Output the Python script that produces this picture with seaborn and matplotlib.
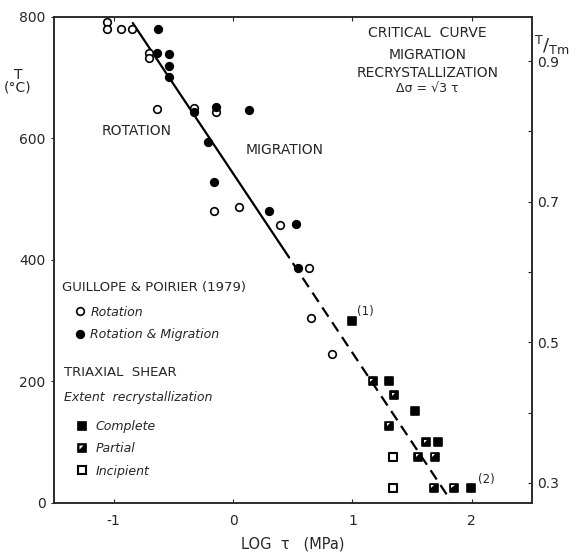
import matplotlib
matplotlib.use("Agg")
import matplotlib.pyplot as plt
import seaborn as sns
from matplotlib.lines import Line2D
from matplotlib.path import Path
from matplotlib.legend_handler import HandlerTuple

# Guillope & Poirier (1979): rotation (open circles)
rot_logtau = [-1.06, -1.06, -0.94, -0.85, -0.70, -0.70, -0.64, -0.33, -0.14,
              -0.16, 0.05, 0.39, 0.64, 0.65, 0.83]
rot_T = [792, 780, 781, 781, 740, 733, 649, 651, 643, 481, 488, 458, 387, 305, 246]

# rotation & migration (filled circles)
mig_logtau = [-0.63, -0.64, -0.54, -0.54, -0.54, -0.33, -0.14, 0.13, -0.21,
              -0.16, 0.30, 0.53, 0.54]
mig_T = [781, 740, 739, 719, 701, 644, 652, 647, 594, 529, 481, 459, 387]

# triaxial shear, extent of recrystallization
comp_logtau = [1.00, 1.31, 1.52, 1.72, 1.99]
comp_T = [300, 201, 151, 100, 24]
part_logtau = [1.17, 1.35, 1.31, 1.62, 1.55, 1.69, 1.68, 1.85]
part_T = [200, 177, 127, 100, 76, 76, 25, 25]
inc_logtau = [1.34, 1.34]
inc_T = [76, 24]

# critical curve
solid_logtau = [-0.84, 0.47]
solid_T = [790, 404]
dash_logtau = [0.50, 1.82]
dash_T = [395, 5]

x_ticks = [-1, 0, 1, 2]
y_ticks = [0, 200, 400, 600, 800]
ratio_ticks = [0.3, 0.4, 0.5, 0.6, 0.7, 0.8, 0.9]
ratio_labels = ["0.3", "", "0.5", "", "0.7", "", "0.9"]

sns.set_style("ticks")
plt.rcParams["font.family"] = ["DejaVu Sans"]

fig = plt.figure(figsize=(5.83, 5.55), dpi=100)
ax = fig.add_axes([0.0926, 0.0937, 0.8191, 0.8757])

sns.lineplot(x=solid_logtau, y=solid_T, sort=False, color="k", lw=1.6, ax=ax)
sns.lineplot(x=dash_logtau, y=dash_T, sort=False, color="k", lw=1.6,
             linestyle=(0, (5, 3)), ax=ax)

sns.scatterplot(x=rot_logtau, y=rot_T, marker="o", s=30, color="white",
                edgecolor="black", linewidth=1.2, ax=ax, zorder=3)
sns.scatterplot(x=mig_logtau, y=mig_T, marker="o", s=30, color="black",
                edgecolor="black", linewidth=1.2, ax=ax, zorder=3)

# white notch drawn over a black square gives the "partial" symbol
# (the first moveto point only fixes the marker scale)
notch = Path([(-1, -1), (-0.62, -0.15), (-0.62, 0.62), (0.15, 0.62), (-0.62, -0.15)],
             [Path.MOVETO, Path.MOVETO, Path.LINETO, Path.LINETO, Path.CLOSEPOLY])

sns.scatterplot(x=comp_logtau, y=comp_T, marker="s", s=36, color="black",
                edgecolor="black", linewidth=1.2, ax=ax, zorder=3)
sns.scatterplot(x=part_logtau, y=part_T, marker="s", s=36, color="black",
                edgecolor="black", linewidth=1.2, ax=ax, zorder=3)
sns.scatterplot(x=part_logtau, y=part_T, marker=notch, s=36, color="white",
                edgecolor="none", linewidth=0, ax=ax, zorder=4)
sns.scatterplot(x=inc_logtau, y=inc_T, marker="s", s=36, color="white",
                edgecolor="black", linewidth=1.5, ax=ax, zorder=3)

ax.set_xlim(-1.5, 2.5)
ax.set_ylim(0, 800)
ax.set_xticks(x_ticks)
ax.set_xticklabels(["-1", "0", "1", "2"])
ax.set_yticks(y_ticks)
ax.tick_params(axis="x", direction="in", length=3, top=True, labelsize=10, pad=8)
ax.tick_params(axis="y", direction="out", length=2, labelsize=10, pad=4)
for sp in ax.spines.values():
    sp.set_linewidth(1.1)
ax.set_xlabel("LOG  τ   (MPa)", fontsize=10.5, labelpad=6)
ax.set_ylabel("")

ax2 = ax.twinx()
ax2.set_ylim(0.2714, 0.9629)
ax2.set_yticks(ratio_ticks)
ax2.set_yticklabels(ratio_labels)
ax2.tick_params(axis="y", direction="in", length=3, labelsize=10, pad=4)
for sp in ax2.spines.values():
    sp.set_linewidth(1.1)

fig.text(18 / 583, 1 - 75 / 555, "T", ha="center", va="center", fontsize=10)
fig.text(18 / 583, 1 - 88 / 555, "(°C)", ha="center", va="center", fontsize=10)
fig.text(552 / 583, 1 - 45 / 555, r"$^{\mathregular{T}}/_{\mathregular{Tm}}$",
         ha="center", va="center", fontsize=13)

# in-plot annotations
ax.text(-0.81, 612, "ROTATION", ha="center", va="center", fontsize=10)
ax.text(0.43, 581, "MIGRATION", ha="center", va="center", fontsize=10)
ax.text(1.63, 773, "CRITICAL  CURVE", ha="center", va="center", fontsize=10)
ax.text(1.63, 737, "MIGRATION", ha="center", va="center", fontsize=10)
ax.text(1.63, 708, "RECRYSTALLIZATION", ha="center", va="center", fontsize=10)
ax.text(1.63, 682, "Δσ = √3 τ", ha="center", va="center", fontsize=9)
ax.text(1.11, 315, "(1)", ha="center", va="center", fontsize=8.5)
ax.text(2.12, 38, "(2)", ha="center", va="center", fontsize=8.5)

ax.text(-1.43, 354, "GUILLOPE & POIRIER (1979)", ha="left", va="center", fontsize=9.5)
ax.text(-1.414, 214, "TRIAXIAL  SHEAR", ha="left", va="center", fontsize=9.5)
ax.text(-1.414, 173, "Extent  recrystallization", ha="left", va="center",
        fontsize=9, style="italic")

h_open = Line2D([], [], marker="o", ls="none", mfc="white", mec="k", mew=1.2, ms=5.5)
h_fill = Line2D([], [], marker="o", ls="none", mfc="k", mec="k", mew=1.2, ms=5.5)
h_comp = Line2D([], [], marker="s", ls="none", mfc="k", mec="k", mew=1.2, ms=6)
h_inc = Line2D([], [], marker="s", ls="none", mfc="white", mec="k", mew=1.5, ms=6)
h_notch = Line2D([], [], marker=notch, ls="none", mfc="white", mec="none", ms=6)

leg1 = ax.legend([h_open, h_fill], ["Rotation", "Rotation & Migration"],
                 loc="upper left", bbox_to_anchor=(0.042, 0.406), frameon=False,
                 borderpad=0, borderaxespad=0, handlelength=1.0,
                 handletextpad=0.3, labelspacing=0.75,
                 prop={"size": 9, "style": "italic"})
ax.add_artist(leg1)
ax.legend([h_comp, (h_comp, h_notch), h_inc], ["Complete", "Partial", "Incipient"],
          handler_map={tuple: HandlerTuple(ndivide=1, pad=0)},
          loc="upper left", bbox_to_anchor=(0.046, 0.171), frameon=False,
          borderpad=0, borderaxespad=0, handlelength=1.0,
          handletextpad=0.6, labelspacing=0.75,
          prop={"size": 9, "style": "italic"})

fig.savefig("out.png", dpi=100)
